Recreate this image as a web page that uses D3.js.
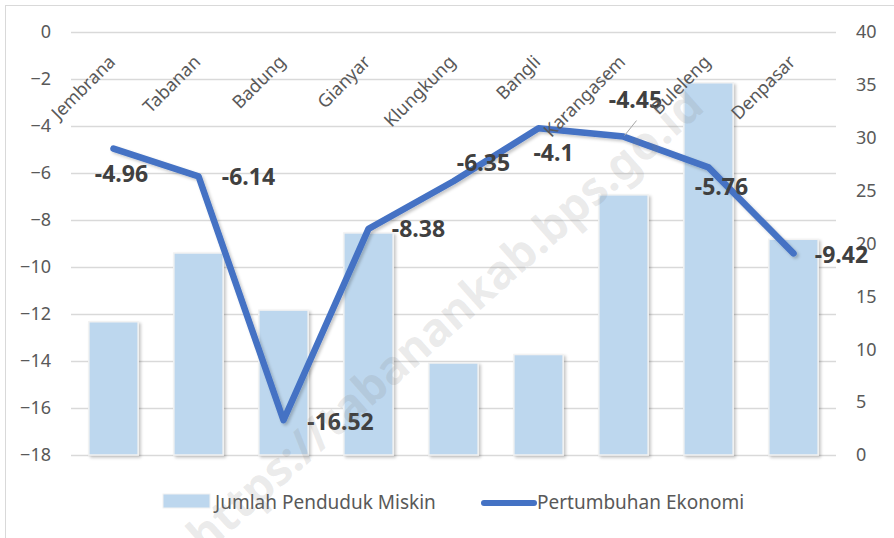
<!DOCTYPE html>
<html>
<head>
<meta charset="utf-8">
<script src="https://cdn.jsdelivr.net/npm/d3@7"></script>
<style>
  body { margin: 0; background: #fff; }
  svg text { font-family: "Noto Sans", sans-serif; }
</style>
</head>
<body>
<div id="chart"></div>
<script>
// data
const regions = ["Jembrana", "Tabanan", "Badung", "Gianyar", "Klungkung", "Bangli", "Karangasem", "Buleleng", "Denpasar"];
const poorPop = [12.6, 19.1, 13.7, 21.0, 8.7, 9.5, 24.6, 35.2, 20.4];
const growth = [-4.96, -6.14, -16.52, -8.38, -6.35, -4.1, -4.45, -5.76, -9.42];
const leftTicks = [0, -2, -4, -6, -8, -10, -12, -14, -16, -18];
const rightTicks = [0, 5, 10, 15, 20, 25, 30, 35, 40];
const seriesNames = ["Jumlah Penduduk Miskin", "Pertumbuhan Ekonomi"];
// where Excel put each data label, relative to its point
const labelOffsets = [[8, 25], [50, 1], [57, 2], [50, 0], [30, -18], [15, 25], [12, -37], [13, 20], [48, 2]];

const width = 894, height = 538;
const svg = d3.select("#chart").append("svg")
    .attr("width", width)
    .attr("height", height);

const defs = svg.append("defs");
const sh = defs.append("filter").attr("id", "shadow")
    .attr("x", "-20%").attr("y", "-20%").attr("width", "140%").attr("height", "140%");
sh.append("feDropShadow").attr("dx", 2).attr("dy", 2).attr("stdDeviation", 1.5)
    .attr("flood-color", "#000").attr("flood-opacity", 0.22);

// chart frame
svg.append("rect")
    .attr("x", 5.5).attr("y", 5.5)
    .attr("width", width + 10).attr("height", height + 10)
    .attr("fill", "none").attr("stroke", "#d9d9d9");

const plotLeft = 71, plotRight = 836, plotTop = 32, plotBottom = 455;

let x = d3.scaleBand().domain(regions).range([plotLeft, plotRight]).paddingInner(0.42).paddingOuter(0.21);
let yL = d3.scaleLinear().domain([0, -18]).range([plotTop, plotBottom]);
let yR = d3.scaleLinear().domain([0, 40]).range([plotBottom, plotTop]);

// gridlines
svg.append("g").selectAll("line")
    .data(leftTicks).enter().append("line")
    .attr("x1", plotLeft).attr("x2", plotRight)
    .attr("y1", d => Math.round(yL(d)) + 0.5).attr("y2", d => Math.round(yL(d)) + 0.5)
    .attr("stroke", "#d9d9d9").attr("stroke-width", 1.3);

// left axis
let leftAxis = d3.axisLeft(yL).tickValues(leftTicks).tickSize(0).tickPadding(0);
let gl = svg.append("g").attr("transform", "translate(51,0)").call(leftAxis);
gl.select(".domain").remove();
gl.selectAll("text").attr("font-size", 18).attr("fill", "#595959")
    .style("font-family", "'Noto Sans', sans-serif");

// right axis
let rightAxis = d3.axisRight(yR).tickValues(rightTicks).tickSize(0).tickPadding(0);
let gr = svg.append("g").attr("transform", "translate(856,0)").call(rightAxis);
gr.select(".domain").remove();
gr.selectAll("text").attr("font-size", 18).attr("fill", "#595959")
    .style("font-family", "'Noto Sans', sans-serif");

// bars
svg.append("g").selectAll("rect")
    .data(poorPop).enter().append("rect")
    .attr("x", (d, i) => x(regions[i]))
    .attr("y", d => yR(d))
    .attr("width", x.bandwidth())
    .attr("height", d => yR(0) - yR(d))
    .attr("fill", "#bdd7ee")
    .attr("stroke", "#f2f2f2").attr("stroke-width", 1.5)
    .attr("filter", "url(#shadow)");

// line
let line = d3.line()
    .x((d, i) => x(regions[i]) + x.bandwidth() / 2)
    .y(d => yL(d));
svg.append("path")
    .datum(growth)
    .attr("d", line)
    .attr("fill", "none")
    .attr("stroke", "#4472c4")
    .attr("stroke-width", 6.5)
    .attr("stroke-linejoin", "round")
    .attr("stroke-linecap", "round")
    .attr("filter", "url(#shadow)");

// leader line for -4.45
let li = 6;
let px = x(regions[li]) + x.bandwidth() / 2, py = yL(growth[li]);
svg.append("line")
    .attr("x1", px + 1).attr("y1", py - 1)
    .attr("x2", px + 13).attr("y2", py - 16)
    .attr("stroke", "#a6a6a6").attr("stroke-width", 1);

// data labels
svg.append("g").selectAll("text")
    .data(growth).enter().append("text")
    .attr("x", (d, i) => x(regions[i]) + x.bandwidth() / 2 + labelOffsets[i][0])
    .attr("y", (d, i) => yL(d) + labelOffsets[i][1])
    .attr("dy", "0.35em")
    .attr("text-anchor", "middle")
    .attr("font-size", 23)
    .attr("font-weight", "bold")
    .attr("fill", "#404040")
    .text(d => d);

// category labels (axis crosses at 0, so they sit at the top)
svg.append("g").selectAll("text")
    .data(regions).enter().append("text")
    .attr("transform", d => "translate(" + (x(d) + x.bandwidth() / 2 + 3) + ",63) rotate(-45)")
    .attr("text-anchor", "end")
    .attr("font-size", 18)
    .attr("fill", "#595959")
    .text(d => d);

// legend
let lg = svg.append("g");
lg.append("rect").attr("x", 163).attr("y", 494).attr("width", 47).attr("height", 14)
    .attr("fill", "#bdd7ee").attr("stroke", "#f2f2f2");
lg.append("text").attr("x", 215).attr("y", 509).attr("font-size", 19).attr("fill", "#595959")
    .text(seriesNames[0]);
lg.append("line").attr("x1", 484).attr("x2", 534).attr("y1", 503).attr("y2", 503)
    .attr("stroke", "#4472c4").attr("stroke-width", 6).attr("stroke-linecap", "round");
lg.append("text").attr("x", 537).attr("y", 509).attr("font-size", 19).attr("fill", "#595959")
    .text(seriesNames[1]);

// watermark
svg.append("text")
    .attr("transform", "translate(445,320) rotate(-41.6)")
    .attr("text-anchor", "middle")
    .attr("dy", "0.35em")
    .attr("font-size", 46)
    .attr("font-weight", "bold")
    .attr("fill", "#808080")
    .attr("fill-opacity", 0.17)
    .text("https://tabanankab.bps.go.id");
</script>
</body>
</html>
